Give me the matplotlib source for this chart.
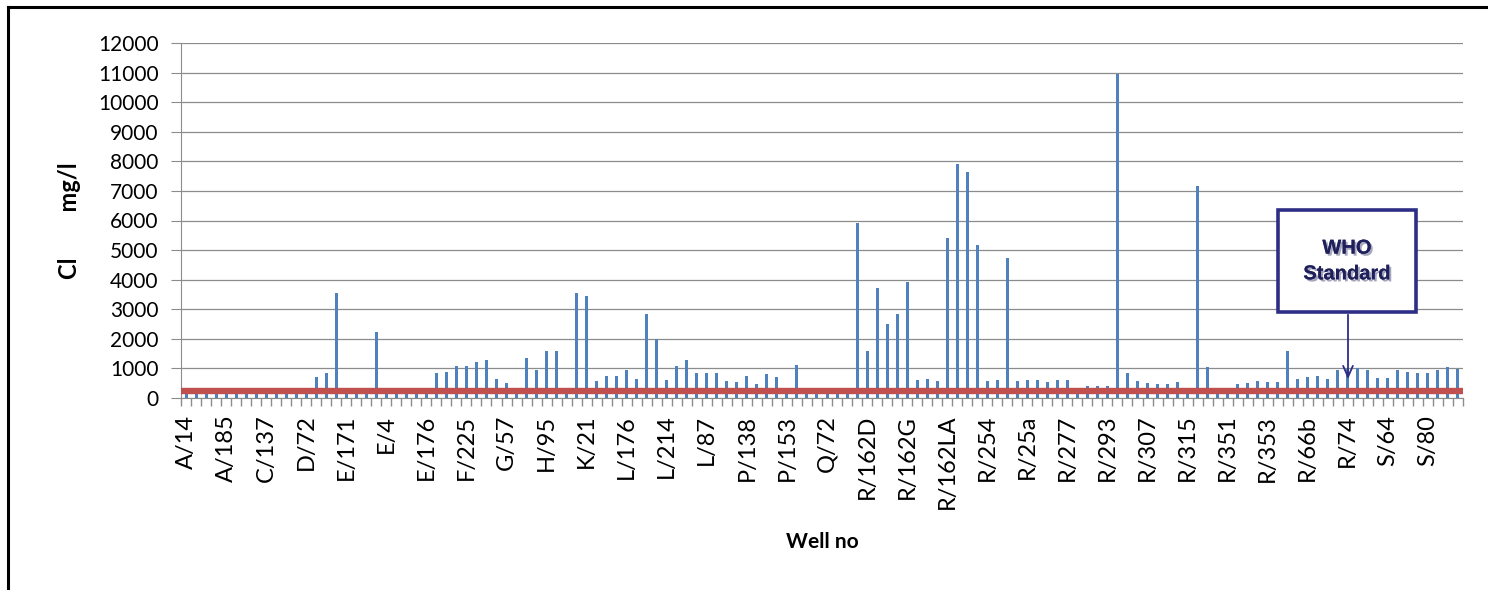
import numpy as np
import matplotlib.pyplot as plt
from matplotlib.patches import Rectangle
from matplotlib.lines import Line2D
import matplotlib.patheffects as pe

# nombres de pozos que aparecen en el eje x (uno cada 4 barras)
etiquetas = ["A/14", "A/185", "C/137", "D/72", "E/171", "E/4", "E/176", "F/225",
             "G/57", "H/95", "K/21", "L/176", "L/214", "L/87", "P/138", "P/153",
             "Q/72", "R/162D", "R/162G", "R/162LA", "R/254", "R/25a", "R/277", "R/293",
             "R/307", "R/315", "R/351", "R/353", "R/66b", "R/74", "S/64", "S/80"]

# cloruros (mg/l) por pozo
cloruro = [130, 180, 200, 190, 210, 170, 200, 140, 210, 160, 190, 120, 170, 720, 860, 3550,
           200, 190, 170, 2230, 180, 140, 200, 190, 180, 860, 880, 1080, 1090, 1230, 1280, 630,
           500, 200, 1350, 950, 1580, 1580, 220, 3550, 3450, 560, 760, 760, 950, 630, 2850, 2000,
           600, 1070, 1270, 860, 850, 850, 560, 540, 760, 480, 800, 700, 120, 1120, 220, 210,
           200, 230, 220, 5900, 1600, 3730, 2510, 2850, 3930, 620, 650, 570, 5400, 7900, 7650, 5170,
           560, 620, 4730, 580, 620, 610, 540, 620, 620, 230, 400, 410, 400, 10950, 850, 570,
           500, 480, 480, 530, 230, 7180, 1050, 230, 220, 480, 500, 570, 540, 540, 1600, 640,
           700, 760, 640, 930, 980, 1000, 950, 680, 680, 930, 870, 860, 860, 950, 1050, 990]

limite_who = 250
paso_etiqueta = 4

plt.rcParams['font.family'] = ['Lato', 'DejaVu Sans']

fig = plt.figure(figsize=(14.88, 5.90), dpi=100)
ax = fig.add_axes([181/1488, 1 - 398/590, 1282/1488, 355/590])

n = len(cloruro)
x = np.arange(n)
ax.bar(x, cloruro, width=0.3, color='#4F81BD', zorder=3)

#linea del estandar de la OMS
ax.axhline(limite_who, color='#C0504D', lw=4.6, zorder=4)

ax.set_xlim(-0.5, n - 0.5)
ax.set_ylim(0, 12000)
ax.set_yticks(np.arange(0, 12001, 1000))
ax.yaxis.grid(True, color='#8C8C8C', lw=0.9, zorder=0)

ax.set_xticks(np.arange(0, n, paso_etiqueta))
ax.set_xticklabels(etiquetas, rotation=90, fontsize=17)
ax.set_xticks(np.arange(-0.5, n, 1), minor=True)
ax.tick_params(axis='x', which='major', length=0, pad=12)
ax.tick_params(axis='x', which='minor', length=6, color='#8C8C8C', width=1)
ax.tick_params(axis='y', length=7, color='#8C8C8C', labelsize=15, pad=9)

for lado in ['top', 'right']:
    ax.spines[lado].set_visible(False)
for lado in ['left', 'bottom']:
    ax.spines[lado].set_color('#8C8C8C')

ax.set_ylabel('Cl        mg/l', fontsize=17, fontweight='bold', labelpad=12)
ax.set_xlabel('Well no', fontsize=15, fontweight='bold', labelpad=16)

#cuadro WHO Standard con flecha
ax.add_patch(Rectangle((0.8557, 0.2423), 0.1076, 0.2873, transform=ax.transAxes,
                       facecolor='white', edgecolor='#2E2E86', lw=2.6, zorder=6, clip_on=False))
ax.text(0.9095, 0.386, 'WHO\nStandard', transform=ax.transAxes, ha='center', va='center',
        fontsize=14.5, fontweight='bold', color='#1F1F5C', family='Liberation Sans',
        linespacing=1.45, zorder=7,
        path_effects=[pe.withSimplePatchShadow(offset=(1.5, -1.5), shadow_rgbFace='#8080A0', alpha=0.7),
                      pe.Normal()])
ax.annotate('', xy=(0.9103, 0.045), xytext=(0.9103, 0.2423), xycoords='axes fraction',
            arrowprops=dict(arrowstyle='->,head_length=0.8,head_width=0.35', color='#2E2E86', lw=1.3),
            zorder=7)

#marco de la imagen
fig.add_artist(Line2D([8/1488, 8/1488], [0, 1 - 7/590], color='black', lw=2.2))
fig.add_artist(Line2D([8/1488, 1], [1 - 7/590, 1 - 7/590], color='black', lw=2.2))

fig.savefig('out.png', dpi=100)
